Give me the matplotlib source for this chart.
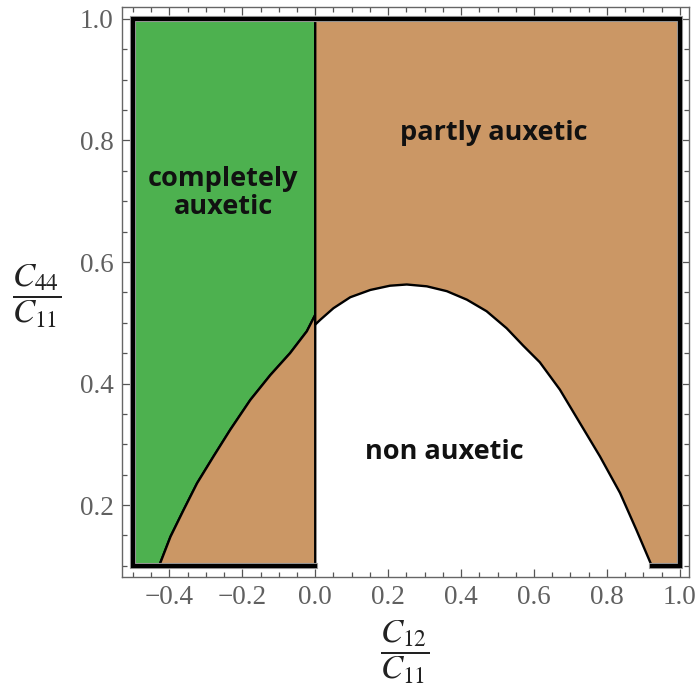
import matplotlib
matplotlib.use("Agg")
import matplotlib.pyplot as plt
import matplotlib.patheffects as pe
from matplotlib.patches import Polygon
from matplotlib.ticker import MultipleLocator
import numpy as np

# boundary green / brown (x<0), from bottom to top
green_x = [-0.428, -0.397, -0.361, -0.324, -0.279, -0.233, -0.178, -0.123, -0.069, -0.023, 0.0]
green_y = [0.100, 0.148, 0.192, 0.236, 0.280, 0.324, 0.373, 0.414, 0.450, 0.486, 0.513]

# boundary white / brown (x>0), from left to right
white_x = [0.0, 0.014, 0.050, 0.096, 0.151, 0.205, 0.251, 0.306, 0.361, 0.416, 0.470,
           0.525, 0.571, 0.616, 0.671, 0.726, 0.781, 0.836, 0.881, 0.923]
white_y = [0.497, 0.505, 0.524, 0.542, 0.554, 0.561, 0.563, 0.560, 0.552, 0.538, 0.519,
           0.491, 0.462, 0.435, 0.390, 0.335, 0.280, 0.220, 0.159, 0.100]

x_min, x_max = -0.5, 1.0
y_min, y_max = 0.1, 1.0

labels = ["completely\nauxetic", "partly auxetic", "non auxetic"]
label_x = [-0.252, 0.490, 0.353]
label_y = [0.714, 0.812, 0.288]

green = "#4db14f"
brown = "#cb9765"

fig = plt.figure(figsize=(6.98, 6.95), dpi=100)
ax = fig.add_axes([0.1748, 0.1698, 0.987 - 0.1748, 0.990 - 0.1698])

# green region
gx = [x_min, x_min, 0.0] + green_x[::-1]
gy = [y_min, y_max, y_max] + green_y[::-1]
ax.add_patch(Polygon(np.column_stack([gx, gy]), closed=True, facecolor=green,
                     edgecolor="black", lw=1.7, joinstyle="round", zorder=2))

# brown piece left of x=0
bx1 = green_x + [0.0]
by1 = green_y + [y_min]
ax.add_patch(Polygon(np.column_stack([bx1, by1]), closed=True, facecolor=brown,
                     edgecolor="black", lw=1.7, joinstyle="round", zorder=2))

# brown piece right of x=0
bx2 = [0.0, x_max, x_max] + white_x[::-1]
by2 = [y_max, y_max, y_min] + white_y[::-1]
ax.add_patch(Polygon(np.column_stack([bx2, by2]), closed=True, facecolor=brown,
                     edgecolor="black", lw=1.7, joinstyle="round", zorder=2))

# thick outer border
shadow = [pe.withStroke(linewidth=4.4, foreground="#a0a0a0")]
ax.plot([0.0, x_min, x_min, x_max, x_max, white_x[-1]],
        [y_min, y_min, y_max, y_max, y_min, y_min],
        color="black", lw=3.0, solid_joinstyle="miter", zorder=3, path_effects=shadow)

for t, x, y in zip(labels, label_x, label_y):
    ax.text(x, y, t, ha="center", va="center", fontsize=19.5, fontweight="bold",
            family="Open Sans", color="#111111", linespacing=1.1, zorder=4)

ax.set_xlim(-0.530, 1.025)
ax.set_ylim(0.0816, 1.0198)

ax.xaxis.set_minor_locator(MultipleLocator(0.05))
ax.yaxis.set_minor_locator(MultipleLocator(0.05))
ax.set_xticks(np.arange(-0.4, 1.01, 0.2))
ax.set_yticks(np.arange(0.2, 1.01, 0.2))
ax.set_xticklabels(["\u22120.4", "\u22120.2", "0.0", "0.2", "0.4", "0.6", "0.8", "1.0"])
ax.set_yticklabels(["0.2", "0.4", "0.6", "0.8", "1.0"])

ax.tick_params(which="both", direction="in", top=True, right=True, color="#555555",
               width=0.9)
ax.tick_params(which="major", length=6, labelsize=19.5, labelcolor="#606060", pad=6)
ax.tick_params(which="minor", length=3.5)
for lab in ax.get_xticklabels() + ax.get_yticklabels():
    lab.set_family("Liberation Serif")

for s in ax.spines.values():
    s.set_color("#666666")
    s.set_linewidth(1.0)

plt.rcParams["mathtext.fontset"] = "stix"
fig.text(37 / 698, 1 - 296 / 695, r"$\dfrac{C_{44}}{C_{11}}$", ha="center", va="center",
         fontsize=24, color="#222222")
fig.text(405 / 698, 1 - 652 / 695, r"$\dfrac{C_{12}}{C_{11}}$", ha="center", va="center",
         fontsize=24, color="#222222")

fig.savefig("out.png", dpi=100)
